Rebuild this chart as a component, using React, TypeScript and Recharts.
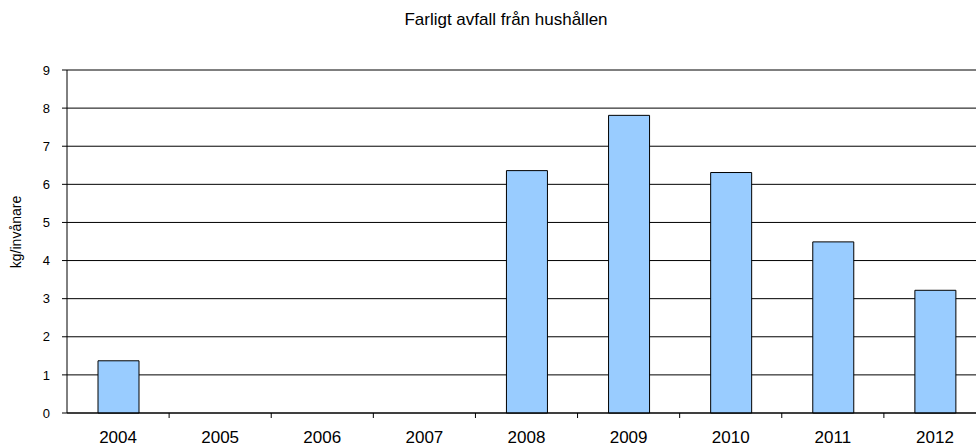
import { BarChart, Bar, XAxis, YAxis, CartesianGrid, Label } from 'recharts'

const years = ['2004', '2005', '2006', '2007', '2008', '2009', '2010', '2011', '2012']
// kg per invånare, no reported value for 2005-2007
const kgPerInhabitant = [1.37, null, null, null, 6.36, 7.81, 6.31, 4.49, 3.22]
const yTicks = [0, 1, 2, 3, 4, 5, 6, 7, 8, 9]

const data = years.map((year, i) => ({ year, value: kgPerInhabitant[i] }))

const font = 'Arial, "Liberation Sans", sans-serif'

function YearTick(props: any) {
  const { x, y, payload } = props
  const half = payload?.offset ?? 51
  return (
    <g>
      <line x1={x + half} y1={y} x2={x + half} y2={y + 5} stroke="#000" />
      <text
        x={x}
        y={y + 30}
        textAnchor="middle"
        fontSize={17}
        fontFamily={font}
        fill="#000"
      >
        {payload.value}
      </text>
    </g>
  )
}

function AxisTitle() {
  return (
    <text
      x={16}
      y={232}
      transform="rotate(-90 16 232)"
      textAnchor="middle"
      dominantBaseline="central"
      fontSize={14}
      fontFamily={font}
      fill="#000"
    >
      kg/invånare
    </text>
  )
}

export default function App() {
  return (
    <div style={{ position: 'absolute', top: 0, left: 0, width: 976, height: 446, overflow: 'hidden', background: '#fff' }}>
      <div
        style={{
          position: 'absolute',
          top: 11,
          left: 506,
          transform: 'translateX(-50%)',
          whiteSpace: 'nowrap',
          fontFamily: font,
          fontSize: 17,
          lineHeight: '17px',
          color: '#000',
        }}
      >
        Farligt avfall från hushållen
      </div>
      <BarChart
        width={1000}
        height={446}
        data={data}
        margin={{ top: 70, right: 14, bottom: 3, left: 7 }}
        barSize={41}
      >
        <CartesianGrid vertical={false} stroke="#000" />
        <XAxis
          dataKey="year"
          height={30}
          axisLine={{ stroke: '#000' }}
          tickLine={false}
          tickSize={0}
          tickMargin={0}
          interval={0}
          tick={<YearTick />}
        />
        <YAxis
          width={60}
          domain={[0, 9]}
          ticks={yTicks}
          interval={0}
          axisLine={{ stroke: '#000' }}
          tickLine={{ stroke: '#000' }}
          tickSize={5}
          tickMargin={12}
          tick={{ fontSize: 13, fontFamily: font, fill: '#000' }}
        >
          <Label content={<AxisTitle />} />
        </YAxis>
        <Bar dataKey="value" fill="#99ccff" stroke="#000" strokeWidth={1} isAnimationActive={false} />
      </BarChart>
    </div>
  )
}
